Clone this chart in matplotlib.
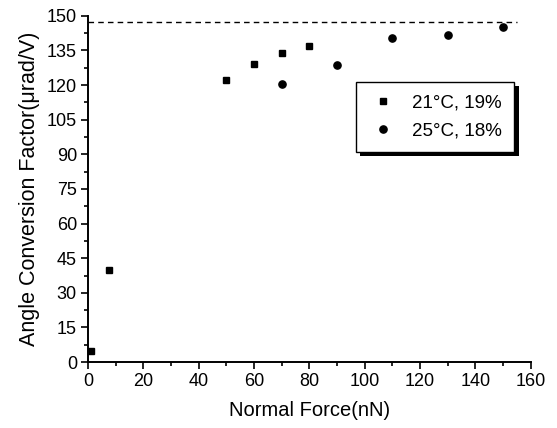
import matplotlib.pyplot as plt
from matplotlib.patches import Rectangle
from matplotlib.ticker import MultipleLocator

plt.rcParams['font.family'] = ['Liberation Sans', 'DejaVu Sans']

# 21C, 19% series (squares)
force_a = [1, 7.5, 50, 60, 70, 80]
factor_a = [5, 40, 122, 129, 134, 137]

# 25C, 18% series (circles)
force_b = [70, 90, 110, 130, 150]
factor_b = [120.5, 128.5, 140.5, 141.5, 145]

# saturation level
sat_x = [0, 155]
sat_y = [147.3, 147.3]


def main():
    fig = plt.figure(figsize=(5.57, 4.28), dpi=100)
    ax = fig.add_axes([0.158, 0.154, 0.795, 0.809])

    ax.plot(sat_x, sat_y, color='black', linestyle=(0, (4, 3)), linewidth=1)
    ax.plot(force_a, factor_a, 's', color='black', markersize=4.5,
            label='21°C, 19%')
    ax.plot(force_b, factor_b, 'o', color='black', markersize=5.2,
            label='25°C, 18%')

    ax.set_xlim(0, 160)
    ax.set_ylim(0, 150)
    ax.xaxis.set_major_locator(MultipleLocator(20))
    ax.xaxis.set_minor_locator(MultipleLocator(10))
    ax.yaxis.set_major_locator(MultipleLocator(15))
    ax.yaxis.set_minor_locator(MultipleLocator(7.5))
    ax.tick_params(which='both', direction='out', width=1.2, labelsize=13)
    ax.tick_params(which='major', length=5, pad=3)
    ax.tick_params(which='minor', length=3)

    for s in ['top', 'right']:
        ax.spines[s].set_visible(False)
    for s in ['left', 'bottom']:
        ax.spines[s].set_linewidth(1.4)

    ax.set_xlabel('Normal Force(nN)', fontsize=14.5, labelpad=8)
    ax.set_ylabel('Angle Conversion Factor(μrad/V)', fontsize=15.5, labelpad=5)

    leg = ax.legend(loc='upper left', bbox_to_anchor=(0.605, 0.809),
                    borderaxespad=0, fontsize=13.5, fancybox=False,
                    edgecolor='black', framealpha=1,
                    handlelength=1.6, handletextpad=0.75,
                    borderpad=0.65, labelspacing=0.6)
    leg.get_frame().set_linewidth(1)
    leg.set_zorder(10)

    # solid black drop shadow, offset down-right, just under the legend
    fig.canvas.draw()
    bb = leg.get_window_extent().transformed(fig.transFigure.inverted())
    dx, dy = 4.5 / 557, 4.5 / 428
    ax.add_patch(Rectangle((bb.x0 + dx, bb.y0 - dy), bb.width, bb.height,
                           transform=fig.transFigure, facecolor='black',
                           edgecolor='none', zorder=9, clip_on=False))

    fig.savefig('out.png', dpi=100)


if __name__ == "__main__":
    main()
